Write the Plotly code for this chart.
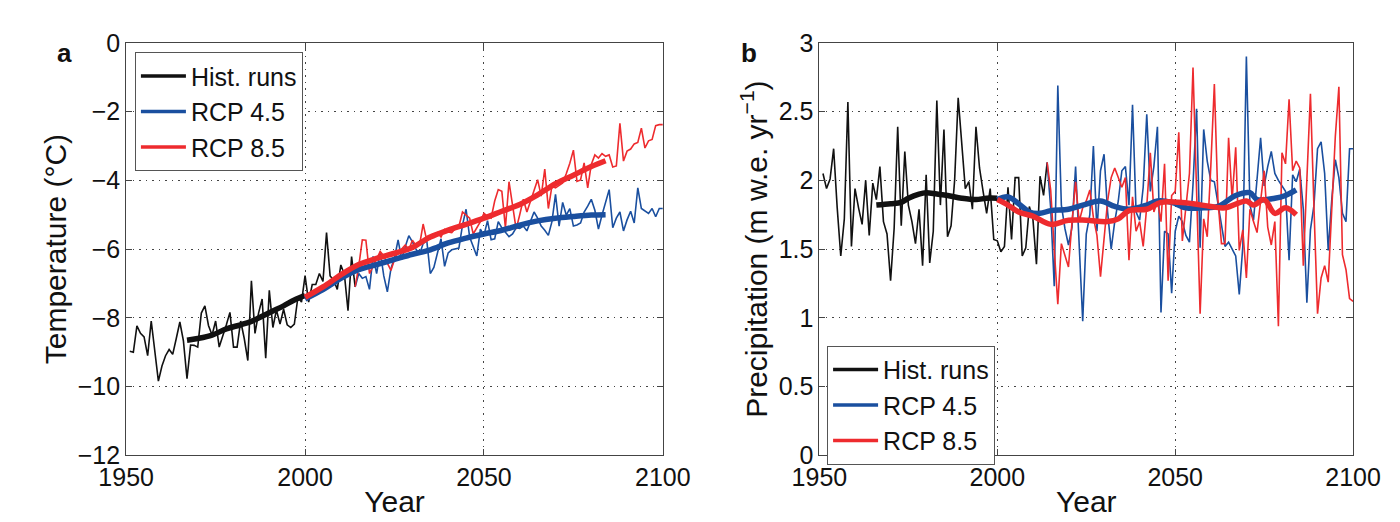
import plotly.graph_objects as go

# ---- data ----
hist_years = list(range(1951, 2015))
rcp_years = list(range(2015, 2101))

temp_hist = [-8.97, -9.0, -8.23, -8.45, -8.55, -9.1, -8.09, -8.9, -9.84, -9.4,
             -9.1, -8.92, -9.06, -8.6, -8.12, -8.67, -9.77, -8.79, -8.8, -8.85,
             -7.86, -7.65, -8.22, -8.5, -8.09, -8.85, -8.55, -8.2, -7.84, -8.85,
             -8.85, -8.09, -8.6, -9.24, -6.92, -8.45, -7.86, -7.45, -9.17, -7.2,
             -8.28, -7.77, -8.18, -7.75, -8.2, -8.28, -8.18, -7.4, -7.54, -6.77,
             -7.54, -7.03, -7.03, -6.71, -6.94, -5.52, -6.78, -6.9, -7.17, -6.46,
             -6.74, -7.79, -6.22, -7.1]
temp_rcp45 = [-6.71, -6.85, -6.8, -7.17, -6.21, -6.71, -6.07, -6.78, -7.24, -6.57,
              -6.25, -5.73, -6.3, -5.93, -5.61, -5.79, -6.0, -6.16, -5.84, -5.74,
              -6.71, -6.53, -6.1, -5.7, -6.5, -6.11, -6.02, -6.0, -5.97, -5.3,
              -4.84, -5.65, -5.9, -6.2, -5.42, -5.6, -5.17, -5.73, -5.7, -5.2,
              -5.38, -5.5, -5.64, -5.56, -5.38, -5.4, -5.33, -5.47, -5.2, -4.92,
              -5.1, -5.33, -5.45, -5.6, -5.2, -4.41, -5.33, -4.64, -5.01, -4.82,
              -5.33, -5.3, -5.24, -4.92, -4.75, -4.55, -4.87, -5.42, -5.01, -4.6,
              -4.27, -5.38, -5.1, -4.92, -5.47, -5.15, -4.9, -5.24, -4.22, -4.82,
              -4.9, -4.96, -4.82, -5.06, -4.82, -4.82]
temp_rcp85 = [-6.5, -5.73, -5.74, -6.71, -6.48, -6.3, -6.07, -6.2, -6.4, -6.62,
              -6.3, -6.07, -6.0, -5.88, -6.02, -5.74, -5.9, -5.88, -5.27, -5.74,
              -5.7, -5.6, -5.52, -5.65, -5.43, -5.5, -5.52, -5.4, -5.34, -4.92,
              -5.0, -5.1, -5.56, -5.37, -5.2, -4.96, -5.05, -5.1, -4.6, -4.27,
              -4.32, -5.38, -4.04, -4.73, -5.42, -5.0, -4.55, -4.92, -4.6, -4.3,
              -3.98, -4.46, -3.67, -4.82, -4.17, -4.22, -4.15, -4.08, -3.81, -3.5,
              -3.12, -4.03, -3.99, -3.49, -4.22, -3.54, -3.26, -3.35, -3.22, -3.3,
              -3.26, -3.61, -3.58, -2.34, -3.44, -3.15, -3.09, -2.94, -2.9, -2.48,
              -3.06, -2.85, -2.81, -2.41, -2.38, -2.38]

hist_mean_years = [1967, 1970, 1974, 1978, 1982, 1985, 1988, 1991, 1994, 1997, 2000]
temp_hist_mean = [-8.65, -8.6, -8.5, -8.32, -8.2, -8.1, -7.95, -7.8, -7.65, -7.48, -7.35]
rcp_mean_years = [2000, 2005, 2010, 2015, 2020, 2025, 2030, 2035, 2040, 2045,
                  2050, 2055, 2060, 2065, 2070, 2075, 2080, 2084]
temp_rcp45_mean = [-7.45, -7.18, -6.85, -6.6, -6.45, -6.3, -6.15, -6.02, -5.82, -5.68,
                   -5.56, -5.45, -5.3, -5.18, -5.1, -5.05, -5.01, -5.0]
temp_rcp85_mean = [-7.4, -7.1, -6.75, -6.45, -6.27, -6.12, -5.95, -5.65, -5.45, -5.28,
                   -5.1, -4.9, -4.7, -4.42, -4.1, -3.85, -3.6, -3.43]

prec_hist = [2.05, 1.94, 2.01, 2.23, 1.8, 1.45, 1.72, 2.57, 1.52, 1.94,
             1.8, 1.68, 2.0, 1.6, 1.98, 1.86, 2.1, 1.70, 1.61, 1.27,
             1.65, 2.39, 1.67, 2.21, 1.82, 1.7, 1.54, 1.79, 1.38, 2.04,
             1.40, 1.63, 2.58, 1.82, 2.37, 1.59, 1.67, 2.0, 2.60, 2.28,
             1.94, 1.99, 1.79, 2.39, 2.09, 1.92, 1.76, 1.94, 1.57, 1.56,
             1.48, 1.52, 1.95, 1.57, 2.02, 2.02, 1.45, 1.51, 1.81, 1.72,
             1.39, 2.03, 1.89, 2.13]
prec_rcp45 = [1.8, 1.23, 2.69, 1.82, 1.65, 1.53, 1.66, 2.10, 1.5, 0.975,
              1.61, 1.75, 2.25, 1.63, 2.07, 2.19, 1.77, 1.5, 1.7, 1.85,
              2.07, 2.1, 1.82, 2.55, 1.77, 1.71, 1.95, 2.48, 1.92, 2.1,
              2.39, 1.04, 1.63, 1.61, 1.18, 1.63, 1.74, 1.70, 1.6, 1.55,
              1.97, 2.52, 1.51, 2.37, 2.14, 2.0, 1.99, 1.84, 1.66, 1.52,
              1.55, 1.5, 1.45, 1.17, 1.52, 2.90, 1.82, 1.71, 2.0, 2.31,
              1.96, 2.1, 2.21, 2.05, 2.0, 1.96, 1.92, 1.42, 2.04, 1.99,
              2.08, 1.79, 1.11, 1.64, 1.82, 2.23, 2.28, 2.05, 1.49, 1.86,
              2.15, 2.02, 1.76, 1.70, 2.23, 2.23]
prec_rcp85 = [1.93, 1.5, 1.10, 1.54, 1.45, 1.37, 1.7, 1.99, 1.70, 1.8,
              1.85, 1.93, 1.73, 1.6, 1.3, 1.6, 1.85, 2.02, 2.09, 2.02,
              1.95, 2.02, 1.42, 1.88, 1.63, 1.7, 1.52, 1.81, 2.2, 1.77,
              1.85, 1.70, 2.12, 1.27, 1.89, 1.92, 2.35, 1.56, 1.8, 2.05,
              2.82, 1.9, 1.03, 1.72, 1.59, 2.1, 2.70, 1.86, 1.54, 1.54,
              2.31, 1.86, 2.24, 1.49, 1.64, 1.29, 1.79, 1.7, 1.62, 1.85,
              2.07, 1.66, 1.53, 1.70, 0.94, 2.20, 2.12, 2.59, 2.07, 2.14,
              2.09, 1.38, 2.0, 2.63, 1.8, 1.03, 1.29, 1.38, 1.26, 1.8,
              2.32, 2.68, 1.46, 1.35, 1.14, 1.12]

prec_hist_mean_years = [1966, 1970, 1973, 1975, 1978, 1980, 1983, 1986, 1990, 1994, 1997, 2000]
prec_hist_mean = [1.82, 1.83, 1.84, 1.87, 1.9, 1.91, 1.9, 1.89, 1.87, 1.86, 1.87, 1.87]
prec45_mean_years = [2000, 2003, 2006, 2009, 2012, 2015, 2020, 2024, 2029, 2033, 2037, 2042,
                     2045, 2049, 2053, 2058, 2062, 2067, 2071, 2073, 2078, 2081, 2084]
prec_rcp45_mean = [1.86, 1.88, 1.83, 1.77, 1.76, 1.78, 1.79, 1.82, 1.85, 1.81, 1.79, 1.82,
                   1.85, 1.84, 1.80, 1.80, 1.81, 1.89, 1.91, 1.86, 1.87, 1.89, 1.93]
prec85_mean_years = [2000, 2003, 2006, 2010, 2015, 2020, 2025, 2031, 2034, 2037, 2042,
                     2046, 2051, 2055, 2060, 2064, 2070, 2072, 2075, 2078, 2081, 2084]
prec_rcp85_mean = [1.86, 1.82, 1.77, 1.74, 1.68, 1.71, 1.71, 1.70, 1.72, 1.78, 1.79,
                   1.84, 1.84, 1.83, 1.81, 1.80, 1.85, 1.82, 1.86, 1.76, 1.80, 1.75]

series_names = ["Hist. runs", "RCP 4.5", "RCP 8.5"]

BLACK = "#111111"
BLUE = "#1a4f9f"
RED = "#ee2b2e"
FONT = "Liberation Sans, Arial, sans-serif"

fig = go.Figure()

def add_panel(xa, ya, leg, hist, r45, r85, hm_x, hm, m45_x, m45, m85_x, m85):
    rx = [hist_years[-1]] + rcp_years
    thin = dict(width=1.6)
    fig.add_trace(go.Scatter(x=hist_years, y=hist, mode="lines", showlegend=False,
                             line=dict(color=BLACK, **thin), xaxis=xa, yaxis=ya))
    fig.add_trace(go.Scatter(x=rx, y=[hist[-1]] + r45, mode="lines", showlegend=False,
                             line=dict(color=BLUE, **thin), xaxis=xa, yaxis=ya))
    fig.add_trace(go.Scatter(x=rx, y=[hist[-1]] + r85, mode="lines", showlegend=False,
                             line=dict(color=RED, **thin), xaxis=xa, yaxis=ya))
    fig.add_trace(go.Scatter(x=hm_x, y=hm, mode="lines", showlegend=False,
                             line=dict(color=BLACK, width=5.5, shape="spline"), xaxis=xa, yaxis=ya))
    fig.add_trace(go.Scatter(x=m45_x, y=m45, mode="lines", showlegend=False,
                             line=dict(color=BLUE, width=5.5, shape="spline"), xaxis=xa, yaxis=ya))
    fig.add_trace(go.Scatter(x=m85_x, y=m85, mode="lines", showlegend=False,
                             line=dict(color=RED, width=5.5, shape="spline"), xaxis=xa, yaxis=ya))
    # legend entries (thicker sample lines, like the original)
    for name, col in zip(series_names, [BLACK, BLUE, RED]):
        fig.add_trace(go.Scatter(x=[None], y=[None], mode="lines", name=name,
                                 line=dict(color=col, width=3.5), xaxis=xa, yaxis=ya,
                                 legend=leg))

add_panel("x", "y", "legend", temp_hist, temp_rcp45, temp_rcp85,
          hist_mean_years, temp_hist_mean, rcp_mean_years, temp_rcp45_mean,
          rcp_mean_years, temp_rcp85_mean)
add_panel("x2", "y2", "legend2", prec_hist, prec_rcp45, prec_rcp85,
          prec_hist_mean_years, prec_hist_mean, prec45_mean_years, prec_rcp45_mean,
          prec85_mean_years, prec_rcp85_mean)

axis_style = dict(showline=True, linecolor="#444", linewidth=1, mirror="ticks",
                  ticks="inside", ticklen=6, tickcolor="#444",
                  showgrid=True, gridcolor="#444", griddash="1.5px,5px", gridwidth=1,
                  zeroline=False, tickfont=dict(size=25, color="#111"))

legend_style = dict(xanchor="left", yanchor="top", bgcolor="white",
                    bordercolor="#555", borderwidth=1, font=dict(size=25),
                    tracegroupgap=0, itemwidth=45)

fig.update_layout(
    width=1400, height=522,
    margin=dict(l=0, r=0, t=0, b=0),
    plot_bgcolor="white", paper_bgcolor="white",
    font=dict(family=FONT, size=25, color="#111"),
    xaxis=dict(domain=[0.0671, 0.4664], range=[1950, 2100], dtick=50, anchor="y",
               title=dict(text="Year", standoff=0), **axis_style),
    yaxis=dict(domain=[0.1226, 0.9579], range=[-12, 0], dtick=2, anchor="x",
               title=dict(text="Temperature (°C)", standoff=2), **axis_style),
    xaxis2=dict(domain=[0.5829, 0.98], range=[1950, 2100], dtick=50, anchor="y2",
                title=dict(text="Year", standoff=0), **axis_style),
    yaxis2=dict(domain=[0.1226, 0.9579], range=[0, 3], dtick=0.5, anchor="x2",
                title=dict(text="Precipitation (m w.e. yr<sup>−1</sup>)", standoff=2), **axis_style),
    legend=dict(x=0.0736, y=0.9387, **legend_style),
    legend2=dict(x=0.5886, y=0.3448, **legend_style),
    annotations=[
        dict(text="<b>a</b>", x=20 / 1400, y=1 - 15 / 522, xref="paper", yref="paper",
             showarrow=False, font=dict(size=26)),
        dict(text="<b>b</b>", x=743 / 1400, y=1 - 15 / 522, xref="paper", yref="paper",
             showarrow=False, font=dict(size=26)),
    ],
)

fig.write_html("out.html")
